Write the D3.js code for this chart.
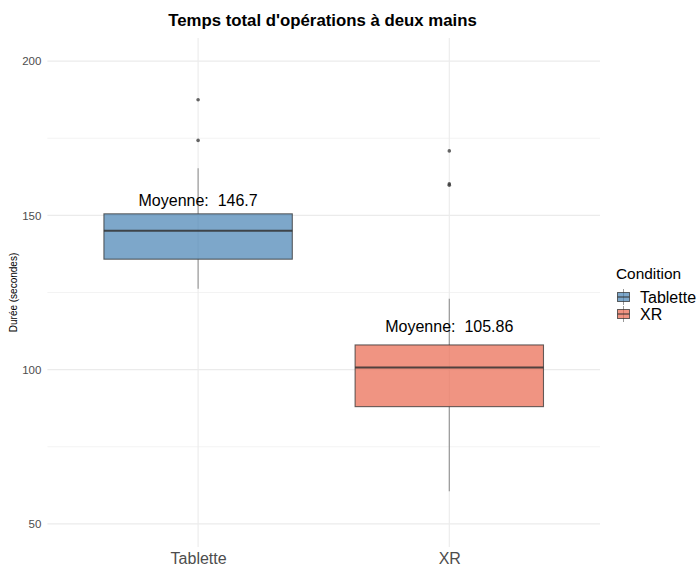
<!DOCTYPE html>
<html>
<head>
<meta charset="utf-8">
<script src="https://cdn.jsdelivr.net/npm/d3@7"></script>
<style>
  html, body { margin: 0; padding: 0; background: #ffffff; }
  svg { display: block; font-family: "Liberation Sans", Arial, sans-serif; }
</style>
</head>
<body>
<svg id="chart" width="699" height="567"></svg>
<script>
// Categories and box summaries (seconds)
const categories = ["Tablette", "XR"];
const q1 = [135.8, 88.0];
const medians = [145.0, 100.7];
const q3 = [150.5, 108.0];
const whiskerLow = [126.2, 60.6];
const whiskerHigh = [165.3, 123.0];
const outliers = [[187.5, 174.3], [170.9, 160.2, 159.8]];
const means = [146.7, 105.86];
const yTicks = [50, 100, 150, 200];
const yMinor = [75, 125, 175];
const colors = ["#4682b4", "#ea664d"];

const svg = d3.select("#chart");
const panel = { left: 47.4, right: 600, top: 38, bottom: 547 };

const x = d3.scalePoint().domain(categories).range([panel.left, panel.right]).padding(0.6);
const y = d3.scaleLinear().domain([42.5, 207.5]).range([panel.bottom, panel.top]);
const boxW = x.step() * 0.75;

// Grid
const grid = svg.append("g");
grid.selectAll(".minor").data(yMinor).join("line")
  .attr("x1", panel.left).attr("x2", panel.right)
  .attr("y1", d => y(d)).attr("y2", d => y(d))
  .attr("stroke", "#ebebeb").attr("stroke-width", 0.6);
grid.selectAll(".major").data(yTicks).join("line")
  .attr("x1", panel.left).attr("x2", panel.right)
  .attr("y1", d => y(d)).attr("y2", d => y(d))
  .attr("stroke", "#ebebeb").attr("stroke-width", 1.1);
grid.selectAll(".vmajor").data(categories).join("line")
  .attr("x1", d => x(d)).attr("x2", d => x(d))
  .attr("y1", panel.top).attr("y2", panel.bottom)
  .attr("stroke", "#ebebeb").attr("stroke-width", 1.1);

// Boxplots
const boxes = svg.append("g");
categories.forEach((c, i) => {
  const cx = x(c);
  const g = boxes.append("g");
  // whiskers
  g.append("line").attr("x1", cx).attr("x2", cx)
    .attr("y1", y(q3[i])).attr("y2", y(whiskerHigh[i]))
    .attr("stroke", "#333333").attr("stroke-opacity", 0.5).attr("stroke-width", 1.1);
  g.append("line").attr("x1", cx).attr("x2", cx)
    .attr("y1", y(q1[i])).attr("y2", y(whiskerLow[i]))
    .attr("stroke", "#333333").attr("stroke-opacity", 0.5).attr("stroke-width", 1.1);
  // box
  g.append("rect")
    .attr("x", cx - boxW / 2).attr("width", boxW)
    .attr("y", y(q3[i])).attr("height", y(q1[i]) - y(q3[i]))
    .attr("fill", colors[i]).attr("fill-opacity", 0.7)
    .attr("stroke", "#333333").attr("stroke-opacity", 0.75).attr("stroke-width", 1.1);
  // median
  g.append("line")
    .attr("x1", cx - boxW / 2).attr("x2", cx + boxW / 2)
    .attr("y1", y(medians[i])).attr("y2", y(medians[i]))
    .attr("stroke", "#333333").attr("stroke-opacity", 0.85).attr("stroke-width", 2);
  // outliers
  g.selectAll("circle").data(outliers[i]).join("circle")
    .attr("cx", cx).attr("cy", d => y(d)).attr("r", 1.8)
    .attr("fill", "#333333").attr("fill-opacity", 0.75);
  // mean label
  g.append("text")
    .attr("x", cx).attr("y", y(means[i] + 8)).attr("dy", "0.35em")
    .attr("text-anchor", "middle").attr("font-size", 16).attr("fill", "#000000")
    .style("white-space", "pre")
    .text("Moyenne:  " + means[i]);
});

// Y axis
const yAxis = d3.axisLeft(y).tickValues(yTicks).tickSize(0).tickPadding(6);
const yg = svg.append("g").attr("transform", `translate(${panel.left},0)`).call(yAxis);
yg.select(".domain").remove();
yg.selectAll("text").attr("font-size", 11.5).attr("fill", "#4d4d4d")
  .attr("font-family", "Liberation Sans, Arial, sans-serif");

// X axis
const xAxis = d3.axisBottom(x).tickSize(0).tickPadding(6);
const xg = svg.append("g").attr("transform", `translate(0,${panel.bottom})`).call(xAxis);
xg.select(".domain").remove();
xg.selectAll("text").attr("font-size", 16).attr("fill", "#4d4d4d")
  .attr("font-family", "Liberation Sans, Arial, sans-serif");

// Y axis title
svg.append("text")
  .attr("transform", `translate(17,${(panel.top + panel.bottom) / 2}) rotate(-90)`)
  .attr("text-anchor", "middle").attr("font-size", 10).attr("fill", "#000000")
  .text("Durée (secondes)");

// Title
svg.append("text")
  .attr("x", 322.5).attr("y", 26)
  .attr("text-anchor", "middle").attr("font-size", 16.8).attr("font-weight", "bold")
  .attr("fill", "#000000")
  .text("Temps total d'opérations à deux mains");

// Legend
const legend = svg.append("g").attr("transform", "translate(616,0)");
legend.append("text").attr("x", 0).attr("y", 279)
  .attr("font-size", 15.4).attr("fill", "#000000").text("Condition");
categories.forEach((c, i) => {
  const cy = 297 + i * 17;
  const k = legend.append("g");
  k.append("line").attr("x1", 7.5).attr("x2", 7.5).attr("y1", cy - 8).attr("y2", cy + 8)
    .attr("stroke", "#333333").attr("stroke-opacity", 0.5);
  k.append("rect").attr("x", 1.5).attr("y", cy - 4.5).attr("width", 12).attr("height", 9)
    .attr("fill", colors[i]).attr("fill-opacity", 0.7)
    .attr("stroke", "#333333").attr("stroke-opacity", 0.75);
  k.append("line").attr("x1", 1.5).attr("x2", 13.5).attr("y1", cy).attr("y2", cy)
    .attr("stroke", "#333333").attr("stroke-opacity", 0.85).attr("stroke-width", 1.2);
  legend.append("text").attr("x", 24).attr("y", cy).attr("dy", "0.35em")
    .attr("font-size", 16).attr("fill", "#000000").text(c);
});
</script>
</body>
</html>
